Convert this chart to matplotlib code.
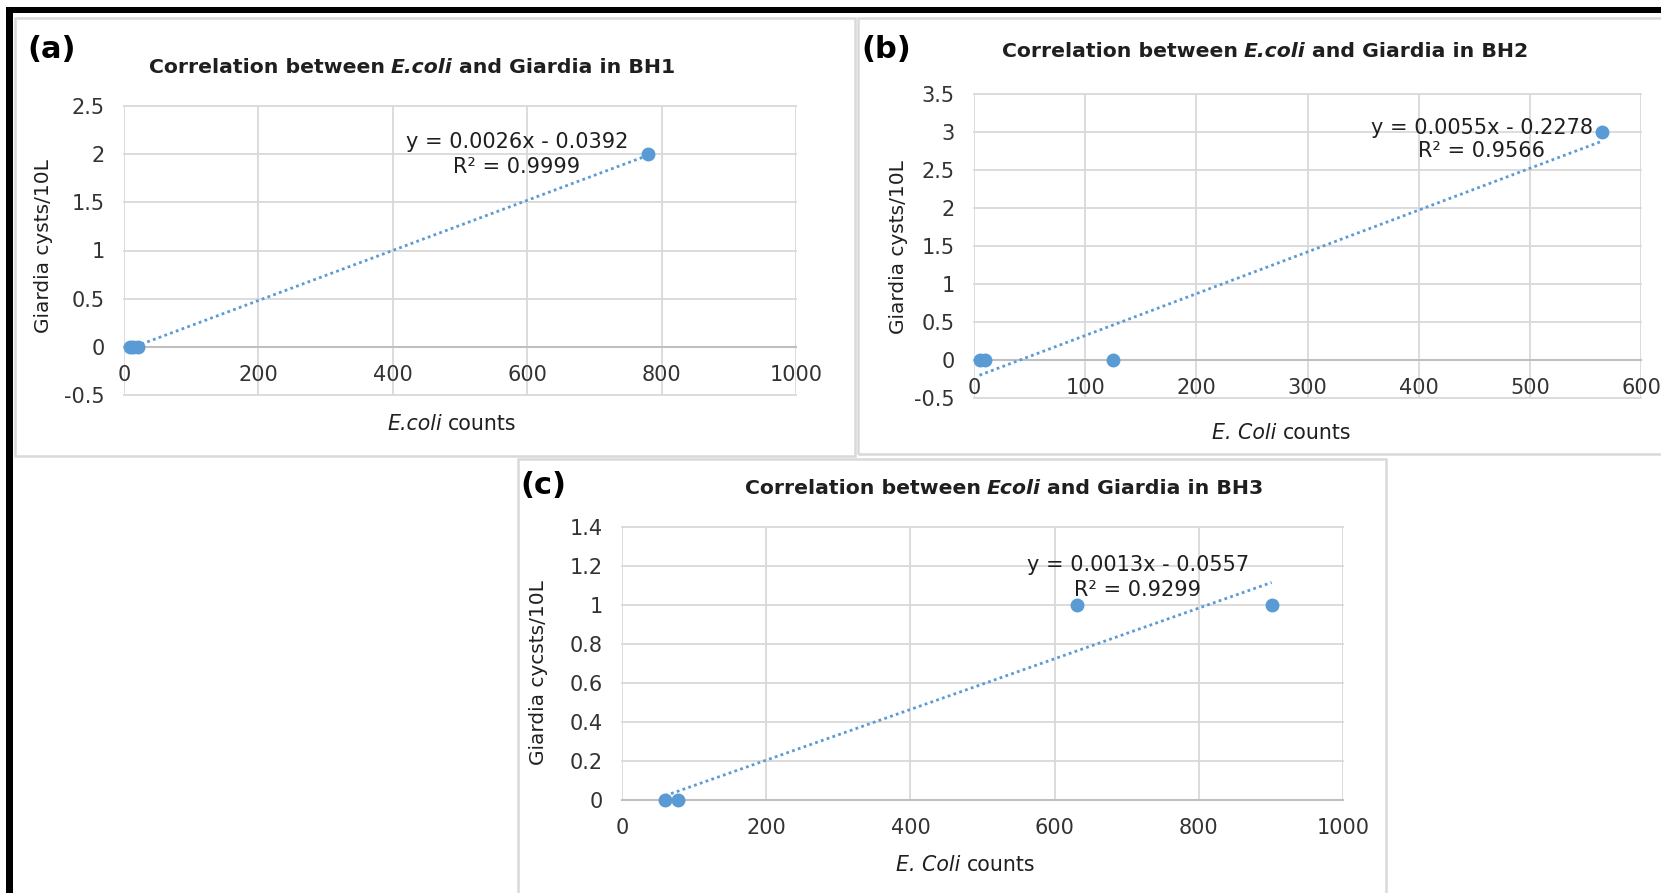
"""Three-panel scatter of E. coli vs Giardia counts with linear trendlines."""

import matplotlib
matplotlib.use("Agg")
import matplotlib.pyplot as plt
from matplotlib.patches import Rectangle
from matplotlib.ticker import FuncFormatter, MultipleLocator
import numpy as np

# data
bh1_ecoli = [9, 14, 21, 780]
bh1_giardia = [0, 0, 0, 2]
bh2_ecoli = [5, 10, 125, 565]
bh2_giardia = [0, 0, 0, 3]
bh3_ecoli = [60, 78, 631, 901]
bh3_giardia = [0, 0, 1, 1]

# trendline coefficients as printed on the chart (slope, intercept)
bh1_fit = (0.0026, -0.0392)
bh2_fit = (0.0055, -0.2278)
bh3_fit = (0.0013, -0.0557)
bh1_eq = ["y = 0.0026x - 0.0392", "R² = 0.9999"]
bh2_eq = ["y = 0.0055x - 0.2278", "R² = 0.9566"]
bh3_eq = ["y = 0.0013x - 0.0557", "R² = 0.9299"]

W, H = 1661, 893
BLUE = "#5b9bd5"
GRID = "#d9d9d9"
TEXT = "#1f1f1f"
TICK = "#333333"

plt.rcParams["font.family"] = ["DejaVu Sans"]

fig = plt.figure(figsize=(W / 100, H / 100), dpi=100)
fig.patch.set_facecolor("white")


def fx(x):
    return x / W


def fy(y):
    return 1 - y / H


def box(x0, y0, x1, y1, **kw):
    fig.add_artist(Rectangle((fx(x0), fy(y1)), (x1 - x0) / W, (y1 - y0) / H,
                             transform=fig.transFigure, **kw))


def rich_text(parts, x, y, size):
    """Draw pieces (text, weight, style) side by side, centred at x, baseline y (pixels)."""
    renderer = fig.canvas.get_renderer()
    texts = [fig.text(0, fy(y), s, fontsize=size, fontweight=w, fontstyle=st,
                      ha="left", va="baseline", color=TEXT) for s, w, st in parts]
    widths = [t.get_window_extent(renderer).width for t in texts]
    gap = 0.3 * size * 100 / 72
    cur = x - (sum(widths) + gap * (len(texts) - 1)) / 2
    for t, w in zip(texts, widths):
        t.set_x(fx(cur))
        cur += w + gap


def panel(rect, xs, ys, fit, xlim, xstep, ylim, ystep):
    x0, y0, x1, y1 = rect
    ax = fig.add_axes([fx(x0), fy(y1), (x1 - x0) / W, (y1 - y0) / H])
    ax.set_xlim(*xlim)
    ax.set_ylim(*ylim)
    ax.xaxis.set_major_locator(MultipleLocator(xstep))
    ax.yaxis.set_major_locator(MultipleLocator(ystep))
    fmt = FuncFormatter(lambda v, _: "%g" % round(v, 2))
    ax.xaxis.set_major_formatter(fmt)
    ax.yaxis.set_major_formatter(fmt)
    ax.grid(True, color=GRID, lw=1.3)
    for gl in ax.get_xgridlines() + ax.get_ygridlines():
        gl.set_clip_on(False)
    ax.set_axisbelow(True)
    for side in ("top", "left", "right"):
        ax.spines[side].set_visible(False)
    ax.spines["bottom"].set_position(("data", 0))
    ax.spines["bottom"].set_color("#bfbfbf")
    ax.spines["bottom"].set_linewidth(1.5)
    ax.tick_params(length=0, labelsize=15, labelcolor=TICK)
    ax.tick_params(axis="x", pad=13)
    ax.tick_params(axis="y", pad=14)
    ax.set_facecolor("none")

    line_x = np.array([min(xs), max(xs)])
    ax.plot(line_x, fit[0] * line_x + fit[1], color=BLUE, lw=2.0,
            ls=(0, (1, 1.2)), zorder=3)
    ax.plot(xs, ys, "o", color=BLUE, ms=9, mec=BLUE, clip_on=False, zorder=4)
    return ax


# outer black frame (top and left edges visible)
box(6, 7, W + 5, 13, color="black", lw=0)
box(6, 7, 13, H + 5, color="black", lw=0)

# panel frames
box(15, 18, 855, 456, fill=False, ec=GRID, lw=1.8)
box(858, 18, W + 10, 454, fill=False, ec=GRID, lw=1.8)
box(518, 459, 1386, H + 10, fill=False, ec=GRID, lw=1.8)

panel((124, 106, 796, 395), bh1_ecoli, bh1_giardia, bh1_fit, (0, 1000), 200, (-0.5, 2.5), 0.5)
panel((974, 94, 1641, 398), bh2_ecoli, bh2_giardia, bh2_fit, (0, 600), 100, (-0.5, 3.5), 0.5)
panel((622, 527, 1343, 800), bh3_ecoli, bh3_giardia, bh3_fit, (0, 1000), 200, (0, 1.4), 0.2)

# panel letters
for letter, x, y in [("(a)", 52, 49), ("(b)", 886, 49), ("(c)", 543, 486)]:
    fig.text(fx(x), fy(y), letter, fontsize=22, fontweight="bold", color="black",
             ha="center", va="center")

# titles
rich_text([("Correlation between", "bold", "normal"), ("E.coli", "bold", "italic"),
           ("and Giardia in BH1", "bold", "normal")], 412, 73, 14.7)
rich_text([("Correlation between", "bold", "normal"), ("E.coli", "bold", "italic"),
           ("and Giardia in BH2", "bold", "normal")], 1265, 57, 14.7)
rich_text([("Correlation between", "bold", "normal"), ("Ecoli", "bold", "italic"),
           ("and Giardia in BH3", "bold", "normal")], 1004, 494, 14.7)

# x-axis labels
rich_text([("E.coli", "normal", "italic"), ("counts", "normal", "normal")], 452, 430, 14.8)
rich_text([("E. Coli", "normal", "italic"), ("counts", "normal", "normal")], 1282, 439, 14.8)
rich_text([("E. Coli", "normal", "italic"), ("counts", "normal", "normal")], 966, 871, 14.8)

# y-axis labels
for label, x, y in [("Giardia cysts/10L", 44, 246), ("Giardia cysts/10L", 898, 247),
                    ("Giardia cycsts/10L", 538, 673)]:
    fig.text(fx(x), fy(y), label, fontsize=14.5, color=TEXT, rotation=90,
             ha="center", va="center")

# trendline equations
for eq, x, y1, y2 in [(bh1_eq, 517, 142, 167), (bh2_eq, 1482, 128, 151),
                      (bh3_eq, 1138, 565, 590)]:
    fig.text(fx(x), fy(y1), eq[0], fontsize=15, color=TEXT, ha="center", va="center")
    fig.text(fx(x), fy(y2), eq[1], fontsize=15, color=TEXT, ha="center", va="center")

fig.savefig("out.png", dpi=100, facecolor="white")
